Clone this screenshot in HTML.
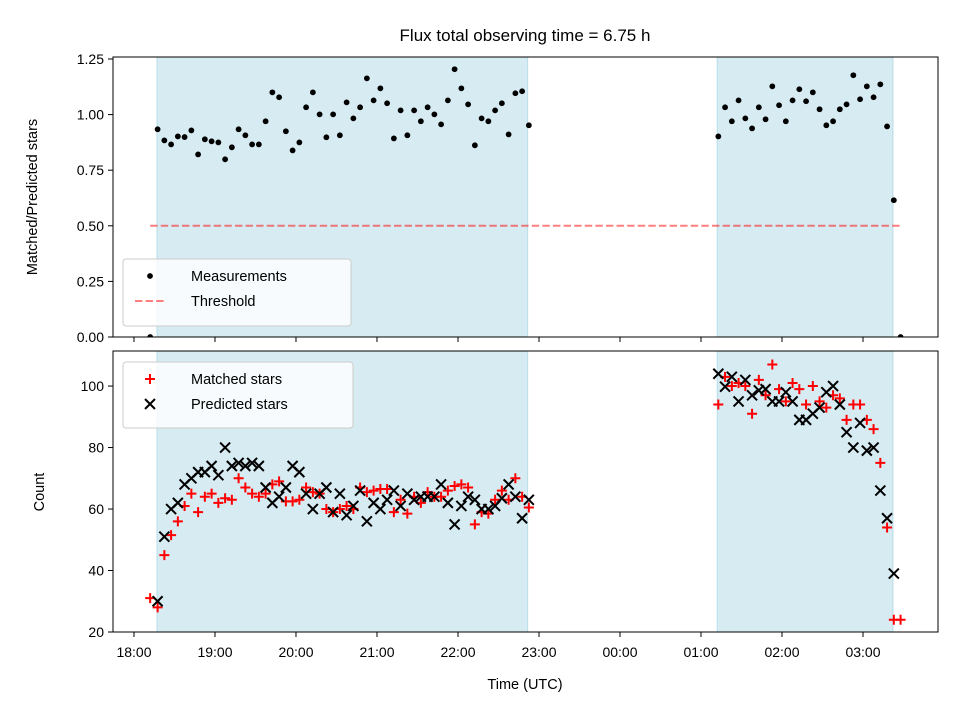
<!DOCTYPE html>
<html><head><meta charset="utf-8"><style>
body{margin:0;background:#fff}
svg text{font-family:"Liberation Sans","DejaVu Sans",sans-serif;fill:#000}
</style></head><body>
<svg id="chart" width="960" height="720" xmlns="http://www.w3.org/2000/svg"></svg>
<script>
// ---- data ----
const leftStart = 18.2917, rightStart = 25.214, step = 1/12;
const ratioLeft = [.934,.884,.866,.902,.899,.929,.821,.889,.880,.875,.799,.853,.934,.907,.866,.866,.970,1.100,1.078,.925,.839,.875,1.033,1.100,1.001,.898,1.001,.907,1.055,.983,1.033,1.163,1.064,1.118,1.051,.893,1.019,.907,1.019,.970,1.033,1.001,.956,1.064,1.204,1.118,1.046,.862,.983,.970,1.019,1.051,.911,1.096,1.105,.952];
const ratioRight = [.902,1.033,.970,1.064,.983,.938,1.033,.979,1.127,1.042,.970,1.064,1.114,1.060,1.100,1.024,.952,.970,1.024,1.046,1.177,1.069,1.127,1.078,1.136,.947,.615,0];
const predLeft = [30,51,60,62,68,70,72,72,74,71,80,74,75,74,75,74,67,62,64,67,74,72,65,60,65,67,59,65,58,61,66,56,62,60,63,66,61,65,63,64,64,64,68,62,55,61,64,63,60,60,61,63.5,68,64,57,63];
const matchLeft = [28,45,51.5,56,61,65,59,64,65,62,63.5,63,70,67,65,64,65,68,69,62.5,62.5,63,67,65.5,65,60,59,60,61,60,67,65.5,66,66.5,66.5,59,63,58.5,64,62,65.5,64,64,66,67.5,68,67,55,59,58.5,63,66,63,70,64,60.5];
const predRight = [104,99.8,103,95,102,97,98.6,99,95,95,98,95,89,89,91,93,98,100,94,85,80,88,79,80,66,57,39,null];
const matchRight = [94,103,100,101,100,91,102,97,107,99,95,101,99,94,100,95,93,97,96,89,94,94,89,86,75,54,24,24];
const earlyTime = 18.2, earlyMatch = 31, earlyRatio = 0;
const xTicks = ["18:00","19:00","20:00","21:00","22:00","23:00","00:00","01:00","02:00","03:00"];
const yTopTicks = [0,0.25,0.5,0.75,1.0,1.25];
const yBotTicks = [20,40,60,80,100];
const spans = [[18.284,22.86],[25.2,27.37]];
const threshold = 0.5, thrRange = [18.2, 27.46];

const svg = document.getElementById('chart');
const NS = 'http://www.w3.org/2000/svg';
function mk(tag, attrs, parent){const e=document.createElementNS(NS,tag);for(const k in attrs)e.setAttribute(k,attrs[k]);(parent||svg).appendChild(e);return e;}
const X0=113,X1=938;
const xMin=17.741,xMax=27.926;
const x = h => X0+(h-xMin)/(xMax-xMin)*(X1-X0);
const T={top:57,bot:337,min:0,max:1.259};
const B={top:351,bot:632,min:20,max:111.4};
const yT = v => T.bot-(v-T.min)/(T.max-T.min)*(T.bot-T.top);
const yB = v => B.bot-(v-B.min)/(B.max-B.min)*(B.bot-B.top);

function panel(P, name){
  const g=mk('g',{});
  
  
  const cp=mk('clipPath',{id:name+'-clip'},g);
  mk('rect',{x:X0,y:P.top,width:X1-X0,height:P.bot-P.top},cp);
  spans.forEach((s,i)=>{
    const r=mk('rect',{x:x(s[0]),y:P.top,width:x(s[1])-x(s[0]),height:P.bot-P.top,fill:'#add8e6','fill-opacity':0.5,stroke:'#add8e6','stroke-opacity':0.8});
    
    
    g.appendChild(r);
  });
  return g;
}
const gt=panel(T,'top-panel'), gb=panel(B,'bottom-panel');
const th=mk('line',{x1:x(thrRange[0]),x2:x(thrRange[1]),y1:yT(threshold),y2:yT(threshold),stroke:'#ff0000','stroke-opacity':0.5,'stroke-width':2,'stroke-dasharray':'7.4,3.2'},gt);


const mg=mk('g',{'clip-path':'url(#top-panel-clip)'},gt);
function dot(h,v){const c=mk('circle',{cx:x(h),cy:yT(v),r:2.9,fill:'#000'},mg);
  
  }
dot(earlyTime,earlyRatio);
ratioLeft.forEach((v,i)=>dot(leftStart+i*step,v));
ratioRight.forEach((v,i)=>dot(rightStart+i*step,v));
const bg=mk('g',{'clip-path':'url(#bottom-panel-clip)'},gb);
function plus(h,v){const cx=x(h),cy=yB(v),s=5;
  const p=mk('path',{d:`M${cx-s},${cy}H${cx+s}M${cx},${cy-s}V${cy+s}`,stroke:'#ff0000','stroke-width':2,fill:'none'},bg);
  
  }
function cross(h,v){if(v===null)return;const cx=x(h),cy=yB(v),s=5;
  const p=mk('path',{d:`M${cx-s},${cy-s}L${cx+s},${cy+s}M${cx-s},${cy+s}L${cx+s},${cy-s}`,stroke:'#000','stroke-width':2,fill:'none'},bg);
  
  }
plus(earlyTime,earlyMatch);
matchLeft.forEach((v,i)=>plus(leftStart+i*step,v));
matchRight.forEach((v,i)=>plus(rightStart+i*step,v));
predLeft.forEach((v,i)=>cross(leftStart+i*step,v));
predRight.forEach((v,i)=>cross(rightStart+i*step,v));

[[T,gt,yTopTicks,yT,v=>v.toFixed(2)],[B,gb,yBotTicks,yB,v=>String(v)]].forEach(([P,g,ticks,yf,fmt],pi)=>{
  const f=mk('rect',{x:X0,y:P.top,width:X1-X0,height:P.bot-P.top,fill:'none',stroke:'#000','stroke-width':1},g);
  
  
  ticks.forEach(v=>{
    const yy=yf(v);
    mk('line',{x1:X0-5,x2:X0,y1:yy,y2:yy,stroke:'#000'},g);
    const t=mk('text',{x:X0-9,y:yy+5,'text-anchor':'end','font-size':14},g);
    t.textContent=fmt(v);
    
    
  });
  xTicks.forEach((lab,i)=>{
    const xx=x(18+i);
    mk('line',{x1:xx,x2:xx,y1:P.bot,y2:P.bot+5,stroke:'#000'},g);
    if(pi===1){const t=mk('text',{x:xx,y:P.bot+25,'text-anchor':'middle','font-size':14},g);
      t.textContent=lab;
      
      }
  });
});
function txt(s,attrs,name){const t=mk('text',attrs);t.textContent=s;return t;}
txt('Flux total observing time = 6.75 h',{x:525,y:41,'text-anchor':'middle','font-size':17},'chart-title');
txt('Time (UTC)',{x:525,y:689,'text-anchor':'middle','font-size':14.5},'x-axis-title');
txt('Matched/Predicted stars',{x:37,y:197,'text-anchor':'middle','font-size':14.5,transform:'rotate(-90 37 197)'},'top-y-axis-title');
txt('Count',{x:44,y:492,'text-anchor':'middle','font-size':14.5,transform:'rotate(-90 44 492)'},'bottom-y-axis-title');

function legend(x0,y0,w,h,items,name){
  const g=mk('g',{});
  
  
  mk('rect',{x:x0,y:y0,width:w,height:h,rx:3,fill:'#fff','fill-opacity':0.8,stroke:'#cccccc'},g);
  items.forEach((it,i)=>{
    const cy=y0+17+i*25, cx=x0+27;
    if(it.k==='dot') mk('circle',{cx:cx,cy:cy,r:2.9,fill:'#000'},g);
    if(it.k==='dash') mk('line',{x1:cx-15,x2:cx+15,y1:cy,y2:cy,stroke:'#ff0000','stroke-opacity':0.5,'stroke-width':2,'stroke-dasharray':'7.4,3.2'},g);
    if(it.k==='plus') mk('path',{d:`M${cx-5},${cy}H${cx+5}M${cx},${cy-5}V${cy+5}`,stroke:'#ff0000','stroke-width':2},g);
    if(it.k==='cross') mk('path',{d:`M${cx-5},${cy-5}L${cx+5},${cy+5}M${cx-5},${cy+5}L${cx+5},${cy-5}`,stroke:'#000','stroke-width':2},g);
    const t=mk('text',{x:x0+68,y:cy+5,'font-size':14.5},g);
    t.textContent=it.t;
    
    
  });
}
legend(123,259,228,67,[{k:'dot',t:'Measurements'},{k:'dash',t:'Threshold'}],'top-legend');
legend(123,362,230,66,[{k:'plus',t:'Matched stars'},{k:'cross',t:'Predicted stars'}],'bottom-legend');
</script>
</body></html>
